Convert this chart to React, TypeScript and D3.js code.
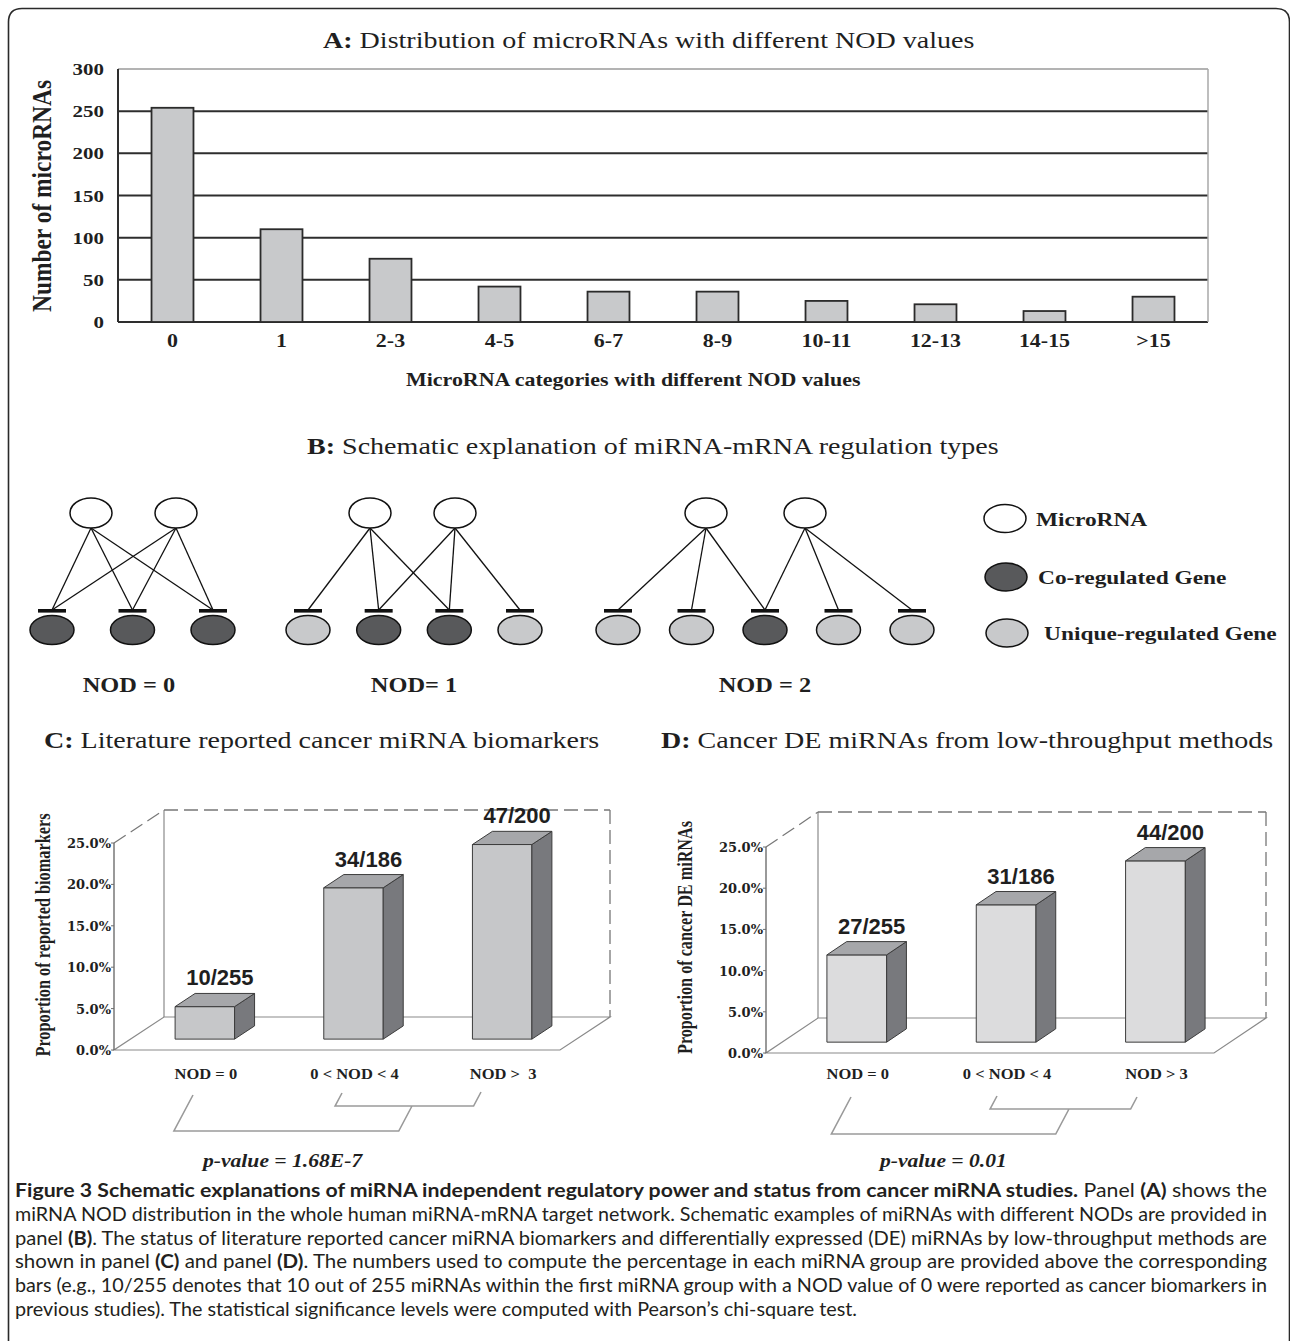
import * as d3 from "d3";

// panel A: microRNAs per NOD category
const nodCategories = ["0", "1", "2-3", "4-5", "6-7", "8-9", "10-11", "12-13", "14-15", ">15"];
const nodCounts = [254, 110, 75, 42, 36, 36, 25, 21, 13, 30];
const countTicks = [0, 50, 100, 150, 200, 250, 300];

// panel B: schematic networks
const schemeLabels = ["NOD = 0", "NOD= 1", "NOD = 2"];
const schemeGenes = [
  ["co", "co", "co"],
  ["uni", "co", "co", "uni"],
  ["uni", "uni", "co", "uni", "uni"],
];
const schemeTargets = [
  [[0, 1, 2], [0, 1, 2]],
  [[0, 1, 2], [1, 2, 3]],
  [[0, 1, 2], [2, 3, 4]],
];
const legendItems = ["MicroRNA", "Co-regulated Gene", "Unique-regulated Gene"];
const legendKinds = ["mir", "co", "uni"];

// panels C and D
const groupLabelsC = ["NOD = 0", "0 < NOD < 4", "NOD >  3"];
const groupLabelsD = ["NOD = 0", "0 < NOD < 4", "NOD > 3"];
const groupSizes = [255, 186, 200];
const biomarkerHits = [10, 34, 47];
const deHits = [27, 31, 44];
const pctTicks = [0, 0.05, 0.1, 0.15, 0.2, 0.25];

const SERIF = "'Liberation Serif', 'Times New Roman', serif";
const SANS = "'Liberation Sans', Arial, sans-serif";
const TICKF = "'DejaVu Serif', serif";
const CAPF = "Lato, 'Open Sans', sans-serif";
const SX = 1.22;
const INK = "#1f1f1f";
const CO = "#58595b";
const UNI = "#c8c9cb";

function T(props: any) {
  const { x, y, size, children, anchor = "start", weight = "normal", italic = false,
    family = SERIF, sx = SX, rotate = 0, fill = INK, len } = props;
  return (
    <text
      transform={`translate(${x},${y}) scale(${sx},1)${rotate ? ` rotate(${rotate})` : ""}`}
      fontSize={size}
      textAnchor={anchor}
      fontWeight={weight}
      fontStyle={italic ? "italic" : "normal"}
      fontFamily={family}
      fill={fill}
      textLength={len}
      lengthAdjust={len ? "spacingAndGlyphs" : undefined}
      style={{ whiteSpace: "pre" }}
    >
      {children}
    </text>
  );
}

function PanelA() {
  const x = d3.scaleBand().domain(nodCategories).range([118, 1208]).paddingInner(0.615).paddingOuter(0.3075);
  const y = d3.scaleLinear().domain([0, 300]).range([322, 69]);
  return (
    <g>
      <T x={323} y={48} size={23}><tspan fontWeight="bold">A:</tspan> Distribution of microRNAs with different NOD values</T>
      {countTicks.map((t) => (
        <line key={t} x1={118} x2={1208} y1={y(t)} y2={y(t)}
          stroke={t === 300 ? "#9a9a9a" : "#2e2e2e"} strokeWidth={t === 300 ? 1.5 : 2} />
      ))}
      <line x1={1208} x2={1208} y1={y(300)} y2={y(0)} stroke="#a8a8a8" strokeWidth={1.5} />
      <line x1={118} x2={118} y1={y(300)} y2={y(0)} stroke="#2e2e2e" strokeWidth={2} />
      {nodCategories.map((c, i) => (
        <rect key={c} x={x(c)} y={y(nodCounts[i])} width={x.bandwidth()} height={y(0) - y(nodCounts[i])}
          fill="#c8c9cb" stroke="#2b2b2b" strokeWidth={1.8} />
      ))}
      {countTicks.map((t) => (
        <T key={t} x={104} y={y(t) + 6} size={16.5} anchor="end" weight="bold" sx={1.27}>{t}</T>
      ))}
      {nodCategories.map((c) => (
        <T key={c} x={(x(c) as number) + x.bandwidth() / 2} y={347} size={18} anchor="middle" weight="bold">{c}</T>
      ))}
      <T x={51} y={196} size={22} anchor="middle" weight="bold" rotate={-90} len={232}>Number of microRNAs</T>
      <T x={406} y={386} size={18} weight="bold">MicroRNA categories with different NOD values</T>
    </g>
  );
}

const geneRange = [[52, 213], [308, 520], [618, 912]];
const mirRange = [[91, 176], [370, 455], [706, 805]];
const schemeLabelX = [129, 414, 765];

function PanelB() {
  const fillOf = (k: string) => (k === "co" ? CO : k === "uni" ? UNI : "#fff");
  return (
    <g>
      <T x={307} y={454} size={23}><tspan fontWeight="bold">B:</tspan> Schematic explanation of miRNA-mRNA regulation types</T>
      {schemeGenes.map((genes, s) => {
        const gx = d3.scalePoint<number>().domain(d3.range(genes.length)).range(geneRange[s]);
        const mx = d3.scalePoint<number>().domain([0, 1]).range(mirRange[s]);
        return (
          <g key={s}>
            {schemeTargets[s].flatMap((tg, m) =>
              tg.map((g) => (
                <line key={`${m}-${g}`} x1={mx(m)} y1={528} x2={gx(g)} y2={610} stroke="#111" strokeWidth={1.3} />
              ))
            )}
            {[0, 1].map((m) => (
              <ellipse key={m} cx={mx(m)} cy={513} rx={21} ry={15} fill="#fff" stroke="#111" strokeWidth={1.5} />
            ))}
            {genes.map((k, g) => (
              <g key={g}>
                <rect x={(gx(g) as number) - 14} y={609} width={28} height={3.6} fill="#111" />
                <ellipse cx={gx(g)} cy={630} rx={22} ry={14.5} fill={fillOf(k)} stroke="#111" strokeWidth={1.5} />
              </g>
            ))}
            <T x={schemeLabelX[s]} y={692} size={20} anchor="middle" weight="bold">{schemeLabels[s]}</T>
          </g>
        );
      })}
      {legendItems.map((lab, i) => {
        const cy = [518.5, 577, 633][i];
        return (
          <g key={lab}>
            <ellipse cx={1005 + i} cy={cy} rx={21} ry={14} fill={fillOf(legendKinds[i])} stroke="#111" strokeWidth={1.5} />
            <T x={[1036, 1038, 1044][i]} y={cy + 7} size={19.5} weight="bold" sx={1.2}>{lab}</T>
          </g>
        );
      })}
    </g>
  );
}

function Panel3D(props: any) {
  const { ox, oy, top, w, dx, dy, df, db, labels, hits, front, yTitle, yTitleX, yTitleLen } = props;
  const h = d3.scaleLinear().domain([0, 0.25]).range([0, oy - top]);
  const xb = d3.scaleBand().domain(labels).range([0, w]).paddingInner(0.6).paddingOuter(0.3);
  const P = (u: number, v: number, d: number) => [ox + u + d * dx, oy - h(v) - d * dy];
  const pts = (arr: number[][]) => arr.map((p) => p.join(",")).join(" ");
  const bx = ox + dx, by = oy - dy, tb = top - dy, rx = ox + w + dx;
  const wall = "#8a8a8a";
  return (
    <g>
      <polygon points={pts([[ox, oy], [ox + w, oy], [rx, by], [bx, by]])} fill="none" stroke={wall} strokeWidth={1.2} />
      <line x1={bx} x2={bx} y1={by} y2={tb} stroke={wall} strokeWidth={1.2} />
      <line x1={bx} x2={rx} y1={tb} y2={tb} stroke="#777" strokeWidth={1.3} strokeDasharray="14,6" />
      <line x1={rx} x2={rx} y1={tb} y2={by} stroke="#777" strokeWidth={1.3} strokeDasharray="14,6" />
      <line x1={ox} x2={bx} y1={top} y2={tb} stroke="#777" strokeWidth={1.2} strokeDasharray="14,6" />
      <line x1={ox} x2={ox} y1={oy} y2={top} stroke="#6e6e6e" strokeWidth={1.4} />
      {pctTicks.map((t) => (
        <g key={t}>
          <line x1={ox - 3} x2={ox} y1={oy - h(t)} y2={oy - h(t)} stroke="#6e6e6e" strokeWidth={1} />
          <T x={ox - 3} y={oy - h(t) + 5} size={13} anchor="end" weight="bold" family={TICKF} sx={1}>
            {d3.format(".1%")(t)}
          </T>
        </g>
      ))}
      {labels.map((lab: string, i: number) => {
        const v = hits[i] / groupSizes[i];
        const u0 = xb(lab) as number;
        const u1 = u0 + xb.bandwidth();
        const faceF = [P(u0, 0, df), P(u1, 0, df), P(u1, v, df), P(u0, v, df)];
        const faceS = [P(u1, 0, df), P(u1, 0, db), P(u1, v, db), P(u1, v, df)];
        const faceT = [P(u0, v, df), P(u1, v, df), P(u1, v, db), P(u0, v, db)];
        const cx = d3.mean(faceT, (p) => p[0]) as number;
        return (
          <g key={lab}>
            <polygon points={pts(faceF)} fill={front} stroke="#3c3c3c" strokeWidth={1} />
            <polygon points={pts(faceS)} fill="#78797d" stroke="#3c3c3c" strokeWidth={1} />
            <polygon points={pts(faceT)} fill="#a6a7aa" stroke="#3c3c3c" strokeWidth={1} />
            <T x={cx + 5} y={P(u1, v, db)[1] - 8} size={22} anchor="middle" weight="bold" family={SANS} sx={1.0}>
              {`${hits[i]}/${groupSizes[i]}`}
            </T>
            <T x={(u0 + u1) / 2 + ox + df * dx + 1} y={1079} size={14} anchor="middle" weight="bold" sx={1.18}>{lab}</T>
          </g>
        );
      })}
      <T x={yTitleX} y={(oy + tb) / 2 + 5} size={17.5} anchor="middle" weight="bold" rotate={-90} sx={1.15} len={yTitleLen}>{yTitle}</T>
    </g>
  );
}

function Brackets(props: any) {
  const { a, b, c, d, bottom, mid } = props;
  const s = 0.53;
  const path =
    `M${c[0]},${c[1]} L${c[0] - s * (a - c[1])},${a} L${d[0] - s * (a - d[1])},${a} L${d[0]},${d[1]} ` +
    `M${b[0]},${b[1]} L${b[0] - s * (bottom - b[1])},${bottom} L${mid - s * (bottom - a)},${bottom} L${mid},${a}`;
  return <path d={path} fill="none" stroke="#9a9a9a" strokeWidth={1.6} />;
}

const captionLines: any[] = [
  [["b", "Figure 3 Schematic explanations of miRNA independent regulatory power and status from cancer miRNA studies."], ["r", " Panel "], ["b", "(A)"], ["r", " shows the"]],
  [["r", "miRNA NOD distribution in the whole human miRNA-mRNA target network. Schematic examples of miRNAs with different NODs are provided in"]],
  [["r", "panel "], ["b", "(B)"], ["r", ". The status of literature reported cancer miRNA biomarkers and differentially expressed (DE) miRNAs by low-throughput methods are"]],
  [["r", "shown in panel "], ["b", "(C)"], ["r", " and panel "], ["b", "(D)"], ["r", ". The numbers used to compute the percentage in each miRNA group are provided above the corresponding"]],
  [["r", "bars (e.g., 10/255 denotes that 10 out of 255 miRNAs within the first miRNA group with a NOD value of 0 were reported as cancer biomarkers in"]],
  [["r", "previous studies). The statistical significance levels were computed with Pearson\u2019s chi-square test."]],
];

export default function App() {
  return (
    <div style={{ position: "absolute", left: 0, top: 0 }}>
      <svg width={1290} height={1341} style={{ display: "block", background: "#fff" }}>
        <rect width={1290} height={1341} fill="#fff" />
        <path d="M8.5,1341 L8.5,22 Q8.5,8.5 22,8.5 L1276,8.5 Q1289.5,8.5 1289.5,22 L1289.5,1341"
          fill="none" stroke="#2a2a2a" strokeWidth={1.6} />
        <PanelA />
        <PanelB />

        <T x={44} y={748} size={23}><tspan fontWeight="bold">C:</tspan> Literature reported cancer miRNA biomarkers</T>
        <T x={661} y={748} size={23}><tspan fontWeight="bold">D:</tspan> Cancer DE miRNAs from low-throughput methods</T>

        <Panel3D ox={114} oy={1050} top={843} w={446} dx={50} dy={33} df={0.33} db={0.73}
          labels={groupLabelsC} hits={biomarkerHits} front="#c6c7c9"
          yTitle="Proportion of reported biomarkers" yTitleX={50} yTitleLen={243} />
        <Panel3D ox={766} oy={1053} top={847} w={448} dx={52} dy={35} df={0.31} db={0.69}
          labels={groupLabelsD} hits={deHits} front="#dcdcdd"
          yTitle="Proportion of cancer DE miRNAs" yTitleX={692} yTitleLen={233} />

        <Brackets c={[342, 1093]} d={[481, 1092]} a={1106} b={[193, 1095]} bottom={1131} mid={412} />
        <Brackets c={[997, 1096]} d={[1137, 1097]} a={1109} b={[851, 1097]} bottom={1134} mid={1069} />

        <T x={203} y={1167} size={18} weight="bold" italic sx={1.2}>p-value = 1.68E-7</T>
        <T x={880} y={1167} size={18} weight="bold" italic sx={1.2}>p-value = 0.01</T>

        {captionLines.map((parts, i) => (
          <text key={i} x={15} y={1197 + 23.8 * i} fontSize={19} fontFamily={CAPF} fill="#231f20"
            textLength={i < 5 ? 1252 : 842} lengthAdjust="spacingAndGlyphs" style={{ whiteSpace: "pre" }}>
            {parts.map((p: string[], j: number) => (
              <tspan key={j} fontWeight={p[0] === "b" ? "bold" : "normal"}>{p[1]}</tspan>
            ))}
          </text>
        ))}
      </svg>
    </div>
  );
}
